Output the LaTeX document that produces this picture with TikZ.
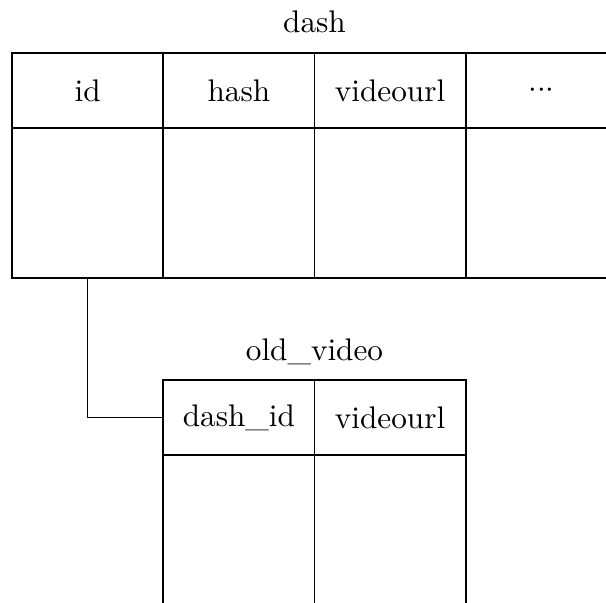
\documentclass[tikz,border=0pt]{standalone}
\begin{document}
\begin{tikzpicture}[x=0.32pt,y=-0.32pt,
  hcell/.style={draw,line width=0.5pt,minimum width=48.4pt,minimum height=24pt,inner sep=0pt,anchor=center},
  bcell/.style={draw,line width=0.5pt,minimum width=48.4pt,minimum height=48pt,inner sep=0pt,anchor=center},
  ttl/.style={inner sep=0pt}]
\useasboundingbox (0,0) rectangle (606,603);
\clip (0,0) rectangle (606,603);
\node[ttl] (t1) at (314.5,22) {dash};
\node[hcell] (h1) at (87.6,90.5) {id};
\node[hcell] (h2) at (238.9,90.5) {hash};
\node[hcell] (h3) at (390.1,90.5) {videourl};
\node[hcell] (h4) at (541.4,90.5) {$\mathord{\cdot}\mathord{\cdot}\mathord{\cdot}$};
\node[bcell] (b1) at (87.6,203) {};
\node[bcell] (b2) at (238.9,203) {};
\node[bcell] (b3) at (390.1,203) {};
\node[bcell] (b4) at (541.4,203) {};
\node[ttl] (t2) at (314.5,352) {old\_video};
\node[hcell] (o1) at (238.9,417.5) {dash\_id};
\node[hcell] (o2) at (390.1,417.5) {videourl};
\node[bcell] (p1) at (238.9,530) {};
\node[bcell] (p2) at (390.1,530) {};
\draw[line width=0.5pt] (b1.south) |- (o1.west);
\end{tikzpicture}
\end{document}
